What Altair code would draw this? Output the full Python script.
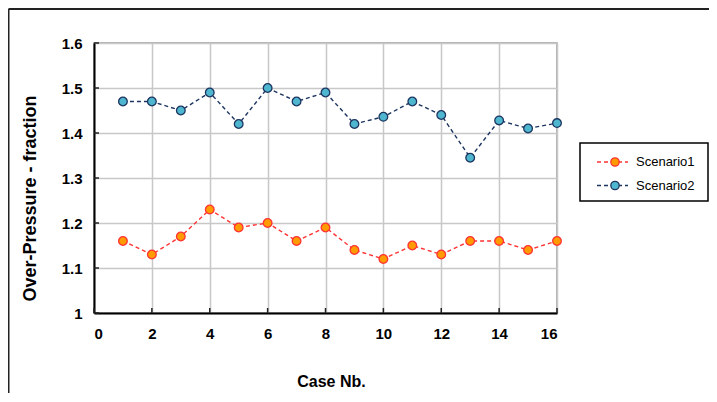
import pandas as pd
import altair as alt

cases = [1, 2, 3, 4, 5, 6, 7, 8, 9, 10, 11, 12, 13, 14, 15, 16]
scenario1 = [1.16, 1.13, 1.17, 1.23, 1.19, 1.20, 1.16, 1.19,
             1.14, 1.12, 1.15, 1.13, 1.16, 1.16, 1.14, 1.16]
scenario2 = [1.47, 1.47, 1.45, 1.49, 1.42, 1.50, 1.47, 1.49,
             1.42, 1.436, 1.47, 1.44, 1.345, 1.428, 1.41, 1.422]
series_names = ["Scenario1", "Scenario2"]
line_colors = ["#ff3333", "#1c3560"]
fill_colors = ["#ff9a00", "#4fb6cf"]
x_ticks = [0, 2, 4, 6, 8, 10, 12, 14, 16]
y_ticks = [1.0, 1.1, 1.2, 1.3, 1.4, 1.5, 1.6]

df = pd.concat([
    pd.DataFrame({"Case": cases, "Value": scenario1, "Series": series_names[0]}),
    pd.DataFrame({"Case": cases, "Value": scenario2, "Series": series_names[1]}),
])

sans = "Liberation Sans, Arial"
W, H = 463, 270

x_enc = alt.X(
    "Case:Q",
    scale=alt.Scale(domain=[0, 16], nice=False),
    axis=alt.Axis(
        title="Case Nb.", values=x_ticks, format="d", ticks=False,
        labelFont=sans, labelFontSize=15, labelFontWeight="bold",
        labelColor="#000", labelPadding=13,
        titleFont=sans, titleFontSize=16,
        titleFontWeight="bold", titleColor="#000",
        titleX=237, titleY=68, titleBaseline="middle",
        domainColor="#000", domainWidth=2,
        gridColor="#c8c8c8", gridWidth=1.5,
    ),
)
y_enc = alt.Y(
    "Value:Q",
    scale=alt.Scale(domain=[1.0, 1.6], nice=False, zero=False),
    axis=alt.Axis(
        title="Over-Pressure - fraction", values=y_ticks, format="~g",
        ticks=False, labelFont=sans, labelFontSize=15,
        labelFontWeight="bold", labelColor="#000", labelPadding=12,
        titleFont=sans, titleFontSize=18,
        titleFontWeight="bold", titleColor="#000",
        titleX=-64, titleY=155, titleAngle=270, titleBaseline="middle",
        domainColor="#000", domainWidth=2,
        gridColor="#c8c8c8", gridWidth=1.5,
    ),
)
stroke_scale = alt.Scale(domain=series_names, range=line_colors)
fill_scale = alt.Scale(domain=series_names, range=fill_colors)

lines = alt.Chart(df).mark_line(strokeDash=[4, 3], strokeWidth=1.4).encode(
    x=x_enc, y=y_enc,
    stroke=alt.Stroke("Series:N", scale=stroke_scale, legend=None),
)
points = alt.Chart(df).mark_point(filled=False, size=75, shape="circle", opacity=1, strokeWidth=1.3).encode(
    x="Case:Q", y="Value:Q",
    stroke=alt.Stroke("Series:N", scale=stroke_scale, legend=None),
    fill=alt.Fill("Series:N", scale=fill_scale, legend=None),
)

# short inner tick marks on both axes
xt = alt.Chart(pd.DataFrame({"Case": x_ticks})).mark_rule(color="#222", strokeWidth=1.5).encode(
    x="Case:Q", y=alt.value(H - 5), y2=alt.value(H))
yt = alt.Chart(pd.DataFrame({"Value": y_ticks})).mark_rule(color="#222", strokeWidth=1.5).encode(
    y="Value:Q", x=alt.value(0), x2=alt.value(5))

# outer frame (left and top edges)
base = alt.Chart(pd.DataFrame({"a": [0]}))
frame_left = base.mark_rule(color="#222", strokeWidth=2).encode(
    x=alt.value(-85.5), y=alt.value(-34), y2=alt.value(400))
frame_top = base.mark_rule(color="#222", strokeWidth=2).encode(
    x=alt.value(-85.5), x2=alt.value(700), y=alt.value(-34))

# hand-drawn legend
legend_box = base.mark_rect(fill="white", stroke="#000", strokeWidth=1.5).encode(
    x=alt.value(486), x2=alt.value(614), y=alt.value(100), y2=alt.value(158))
legend_layers = [legend_box]
for i, name in enumerate(series_names):
    ly = 119 + i * 23.5
    legend_layers.append(base.mark_rule(color=line_colors[i], strokeWidth=1.4, strokeDash=[4, 3]).encode(
        x=alt.value(503), x2=alt.value(534), y=alt.value(ly)))
    legend_layers.append(base.mark_point(shape="circle", size=70, filled=False, opacity=1,
                                         stroke=line_colors[i], fill=fill_colors[i], strokeWidth=1.3).encode(
        x=alt.value(521), y=alt.value(ly)))
    legend_layers.append(base.mark_text(text=name, align="left", baseline="middle",
                                        font=sans, fontSize=13, color="#000").encode(
        x=alt.value(542), y=alt.value(ly)))

chart = alt.layer(lines, xt, yt, points, frame_left, frame_top, *legend_layers).properties(
    width=W, height=H,
    autosize=alt.AutoSizeParams(type="none"),
    padding={"left": 86, "top": 35, "right": 152, "bottom": 80},
).configure_view(stroke="#999", strokeWidth=1.5)

chart.save("out.html", embed_options={"renderer": "svg", "actions": False})
